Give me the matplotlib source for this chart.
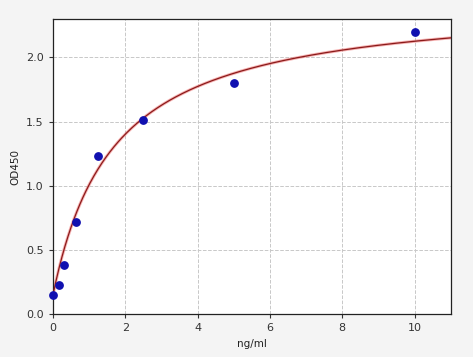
import numpy as np
import matplotlib
matplotlib.use("Agg")
import matplotlib.pyplot as plt

# standard points
conc = [0, 0.156, 0.3125, 0.625, 1.25, 2.5, 5, 10]
od = [0.15, 0.23, 0.38, 0.72, 1.23, 1.51, 1.80, 2.20]

# fitted 4PL parameters
fit_a, fit_d, fit_c, fit_b = 0.15, 2.46, 1.69, 1.0


def four_pl(x):
    x = np.asarray(x, dtype=float)
    return fit_d + (fit_a - fit_d) / (1 + (x / fit_c) ** fit_b)


fig = plt.figure(figsize=(4.73, 3.57), dpi=100, facecolor="#f4f4f4")
ax = fig.add_axes([0.112, 0.12, 0.841, 0.827])

xs = np.linspace(0, 11, 400)
ax.plot(xs, four_pl(xs), color="#f08080", lw=2.2, alpha=0.6, zorder=2)
ax.plot(xs, four_pl(xs), color="#8b1a1a", lw=0.9, zorder=3)
ax.scatter(conc, od, s=28, color="#1010b0", zorder=4, clip_on=False)

ax.set_xlim(0, 11)
ax.set_ylim(0, 2.3)
ax.set_xticks([0, 2, 4, 6, 8, 10])
ax.set_yticks([0.0, 0.5, 1.0, 1.5, 2.0])
ax.grid(True, linestyle="--", color="#c8c8c8", lw=0.7)
ax.set_axisbelow(True)
ax.tick_params(labelsize=8, colors="#333333", length=3)
for s in ax.spines.values():
    s.set_color("#222222")
    s.set_linewidth(0.9)

ax.set_xlabel("ng/ml", fontsize=7.5, color="#222222")
ax.set_ylabel("OD450", fontsize=7.5, color="#222222")

fig.savefig("out.png", dpi=100, facecolor=fig.get_facecolor())
